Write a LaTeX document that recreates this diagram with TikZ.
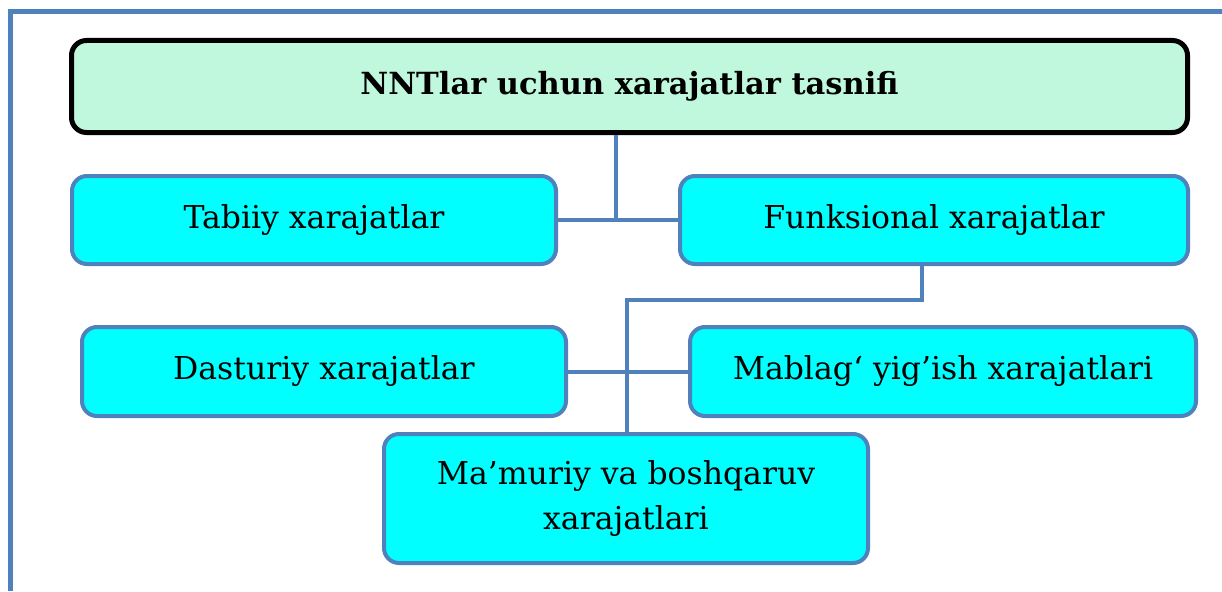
\documentclass[tikz,border=0pt]{standalone}
\usepackage{fontspec}
\setmainfont{DejaVu Serif}
\definecolor{frameblue}{HTML}{4F81BD}
\definecolor{mint}{HTML}{BFF8DC}
\definecolor{aqua}{HTML}{00FFFF}
\begin{document}
\begin{tikzpicture}[x=1pt,y=-1pt,
  titlebox/.style={draw=black, line width=5pt, fill=mint, rounded corners=15pt,
    minimum width=1116pt, minimum height=92pt, font=\fontsize{30.5}{40}\selectfont\bfseries},
  itembox/.style={draw=frameblue, line width=4pt, fill=aqua, rounded corners=15pt,
    minimum width=484pt, minimum height=88pt, align=center,
    font=\fontsize{31.5}{45}\selectfont},
  link/.style={draw=frameblue, line width=4pt}]
\useasboundingbox (0,0) rectangle (1222,591);
\fill[white] (0,0) rectangle (1222,591);
% frame
\draw[frameblue, line width=5pt] (10.5,591) -- (10.5,12) -- (1222,12);
% nodes
\node[titlebox] (title) at (629.5,86.5) {NNTlar uchun xarajatlar tasnifi};
\node[itembox] (tabiiy) at (314,220) {Tabiiy xarajatlar};
\node[itembox, minimum width=508pt] (funk) at (934,220) {Funksional xarajatlar};
\node[itembox, minimum height=89pt] (dastur) at (324,371.5) {Dasturiy xarajatlar};
\node[itembox, minimum width=506pt, minimum height=89pt] (mablag) at (943,371.5) {Mablag‘ yig’ish xarajatlari};
\node[itembox, minimum height=129pt] (mamur) at (626,498.5) {Ma’muriy va boshqaruv\\xarajatlari};
% junction coordinates
\coordinate (j1) at (616,220);
\coordinate (j2) at (922,300);
\coordinate (j3) at (627,300);
% connectors
\draw[link] (tabiiy.east) -- (funk.west);
\draw[link] (title.south -| j1) -- (j1);
\draw[link] (funk.south -| j2) -- (j2) -- (j3) -- (mamur.north -| j3);
\draw[link] (dastur.east) -- (mablag.west);
\end{tikzpicture}
\end{document}
